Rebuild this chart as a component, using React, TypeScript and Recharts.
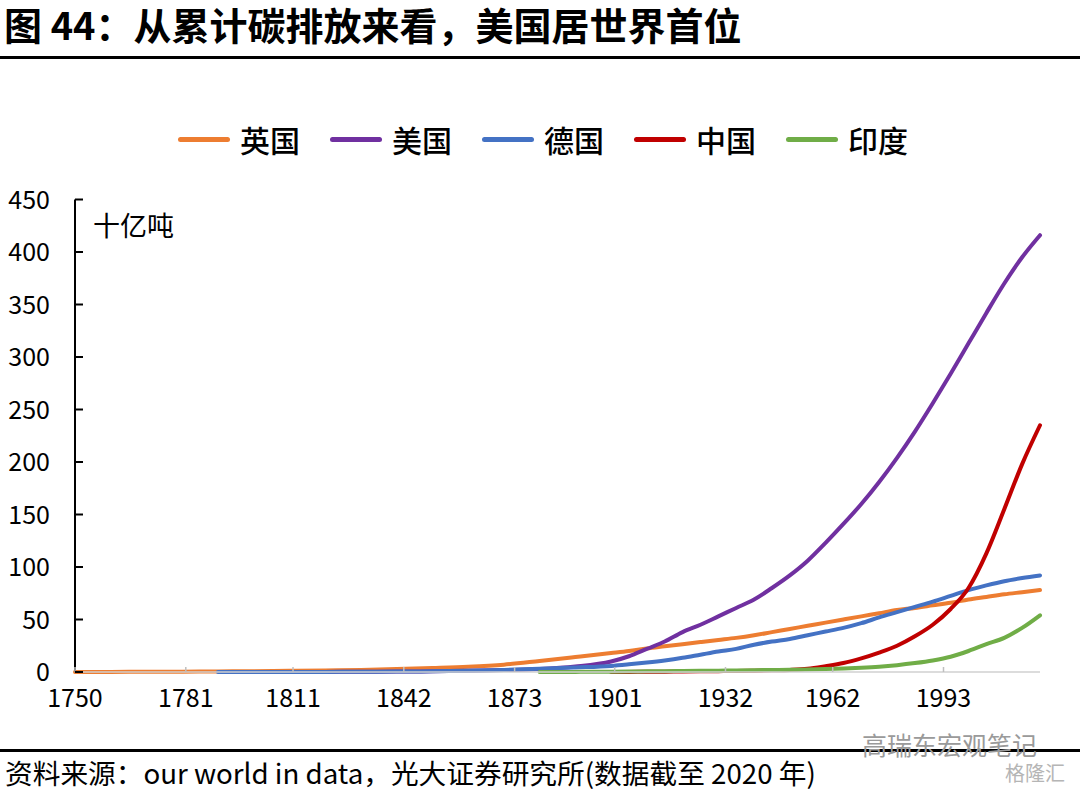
import React from 'react';
import { LineChart, Line, XAxis, YAxis, Legend } from 'recharts';

const years = [
  1750, 1760, 1770, 1780, 1790, 1800, 1810, 1820, 1830, 1840, 1850, 1860, 1870, 1880, 1890,
  1900, 1905, 1910, 1915, 1920, 1925, 1930, 1935, 1940, 1945, 1950, 1955, 1960, 1965, 1970,
  1975, 1980, 1985, 1990, 1995, 2000, 2005, 2010, 2015, 2020,
];

// 累计碳排放，十亿吨
const uk = [
  0.05, 0.1, 0.2, 0.35, 0.5, 0.8, 1.1, 1.5, 2.0, 2.8, 3.8, 5.0, 7.0, 10.5, 14.2,
  18, 20, 22.5, 24.5, 26.5, 28.5, 30.5, 32.5, 35, 38, 41, 44, 47, 50, 53,
  56, 59, 61, 63.5, 66, 69, 71.5, 74, 76, 78,
];
const us = [
  null, null, null, null, null, 0, 0.05, 0.1, 0.2, 0.4, 0.7, 1.2, 1.8, 2.8, 5.2,
  10, 15, 22, 29, 38, 45, 53, 61, 69, 80, 92, 106, 123, 141, 160,
  181, 204, 229, 256, 284, 313, 342, 370, 395, 416,
];
const germany = [
  null, null, null, null, 0, 0.02, 0.05, 0.1, 0.2, 0.4, 0.7, 1.2, 2.0, 3.0, 4.3,
  5.8, 7.3, 9, 11, 13.5, 16.5, 19.5, 22, 26, 29, 31.5, 35, 38.5, 42, 46.5,
  52, 57, 62, 67, 72.5, 78, 82.5, 86.5, 89.5, 92,
];
const china = [
  null, null, null, null, null, null, null, null, null, null, null, null, null, null, null,
  0, 0.1, 0.2, 0.3, 0.5, 0.6, 0.8, 1.0, 1.3, 1.6, 2.0, 3.0, 5.5, 8.5, 13,
  18.5, 25, 34, 45, 60, 80, 113, 155, 198, 235,
];
const india = [
  null, null, null, null, null, null, null, null, null, null, null, null, null, 0, 0.1,
  0.3, 0.4, 0.6, 0.7, 0.9, 1.1, 1.3, 1.5, 1.7, 1.9, 2.1, 2.4, 2.8, 3.3, 4,
  5, 6.5, 8.5, 11, 14.5, 20, 26.5, 32.5, 42, 54,
];

const xTicks = [1750, 1781, 1811, 1842, 1873, 1901, 1932, 1962, 1993];
const yTicks = [0, 50, 100, 150, 200, 250, 300, 350, 400, 450];

const series = [
  { key: 'uk', name: '英国', color: '#ED7D31' },
  { key: 'us', name: '美国', color: '#7030A0' },
  { key: 'germany', name: '德国', color: '#4472C4' },
  { key: 'china', name: '中国', color: '#C00000' },
  { key: 'india', name: '印度', color: '#70AD47' },
];

const data = years.map((year, i) => ({
  year,
  uk: uk[i],
  us: us[i],
  germany: germany[i],
  china: china[i],
  india: india[i],
}));

const FONT = '"Noto Sans CJK SC", "Noto Sans", sans-serif';

const X_MARGIN = 17;
const Y_MARGIN = 25;

function XTick(props: any) {
  const { x, y, payload } = props;
  const axisY = y - X_MARGIN;
  return (
    <g>
      <line x1={x} x2={x} y1={axisY} y2={axisY - 5} stroke="#BFBFBF" strokeWidth={1.5} />
      <text x={x} y={y} dy="0.71em" textAnchor="middle" fill="#000" fontSize={25} fontFamily={FONT}>
        {payload.value}
      </text>
    </g>
  );
}

function YTick(props: any) {
  const { x, y, payload } = props;
  const axisX = x + Y_MARGIN;
  return (
    <g>
      <line x1={axisX} x2={axisX + 8} y1={y} y2={y} stroke="#000" strokeWidth={2} />
      <text x={x} y={y} dy="0.36em" textAnchor="end" fill="#000" fontSize={25} fontFamily={FONT}>
        {payload.value}
      </text>
    </g>
  );
}

function LegendRow() {
  return (
    <div style={{ height: 82.5, display: 'flex', alignItems: 'flex-start', paddingLeft: 178 }}>
      {series.map((s) => (
        <div key={s.key} style={{ display: 'flex', alignItems: 'center', marginRight: 30, height: 44 }}>
          <div style={{ width: 52, height: 5, borderRadius: 3, background: s.color, marginRight: 10 }} />
          <span style={{ fontSize: 30, fontFamily: FONT, fontWeight: 500, color: '#000', lineHeight: '40px' }}>
            {s.name}
          </span>
        </div>
      ))}
    </div>
  );
}

export default function App() {
  return (
    <div
      style={{
        position: 'absolute',
        left: 0,
        top: 0,
        width: 1080,
        height: 791,
        background: '#fff',
        overflow: 'hidden',
        fontFamily: FONT,
      }}
    >
      <div
        style={{
          position: 'absolute',
          left: 4,
          top: 3,
          width: 1000,
          fontSize: 38,
          fontWeight: 700,
          lineHeight: '42px',
          color: '#000',
        }}
      >
        图 44：从累计碳排放来看，美国居世界首位
      </div>
      <div style={{ position: 'absolute', left: 0, top: 56, width: 1080, height: 3, background: '#000' }} />

      <div style={{ position: 'absolute', left: 0, top: 60 }}>
        <LineChart width={1080} height={731} data={data} margin={{ top: 57, right: 40, bottom: 0, left: 0 }}>
          <Legend
            verticalAlign="top"
            align="left"
            wrapperStyle={{ left: 0, width: 1080 }}
            content={() => <LegendRow />}
          />
          <XAxis
            dataKey="year"
            type="number"
            domain={[1750, 2020]}
            ticks={xTicks}
            interval={0}
            height={119}
            tickSize={0}
            tickMargin={X_MARGIN}
            axisLine={{ stroke: '#D0D0D0', strokeWidth: 1.5 }}
            tickLine={false}
            tick={(p: any) => <XTick {...p} />}
          />
          <YAxis
            type="number"
            domain={[0, 450]}
            ticks={yTicks}
            interval={0}
            width={75}
            tickSize={0}
            tickMargin={Y_MARGIN}
            axisLine={{ stroke: '#000', strokeWidth: 2 }}
            tickLine={false}
            tick={(p: any) => <YTick {...p} />}
          />
          {series.map((s) => (
            <Line
              key={s.key}
              type="monotone"
              dataKey={s.key}
              name={s.name}
              stroke={s.color}
              strokeWidth={4}
              strokeLinecap="round"
              dot={false}
              activeDot={false}
              isAnimationActive={false}
            />
          ))}
        </LineChart>
      </div>

      <div style={{ position: 'absolute', left: 93, top: 206, fontSize: 27, color: '#000', lineHeight: '38px' }}>
        十亿吨
      </div>

      <div style={{ position: 'absolute', left: 0, top: 749, width: 1080, height: 3, background: '#000' }} />
      <div
        style={{
          position: 'absolute',
          left: 862,
          top: 726,
          fontSize: 25,
          color: '#9A9A9A',
          lineHeight: '36px',
          whiteSpace: 'nowrap',
        }}
      >
        高瑞东宏观笔记
      </div>
      <div
        style={{
          position: 'absolute',
          left: 5,
          top: 753,
          fontSize: 27.7,
          color: '#000',
          lineHeight: '38px',
          whiteSpace: 'nowrap',
        }}
      >
        资料来源：our world in data，光大证券研究所(数据截至 2020 年)
      </div>
      <div
        style={{
          position: 'absolute',
          left: 1005,
          top: 760,
          fontSize: 20,
          color: '#B5B5B5',
          lineHeight: '26px',
          whiteSpace: 'nowrap',
        }}
      >
        格隆汇
      </div>
    </div>
  );
}
